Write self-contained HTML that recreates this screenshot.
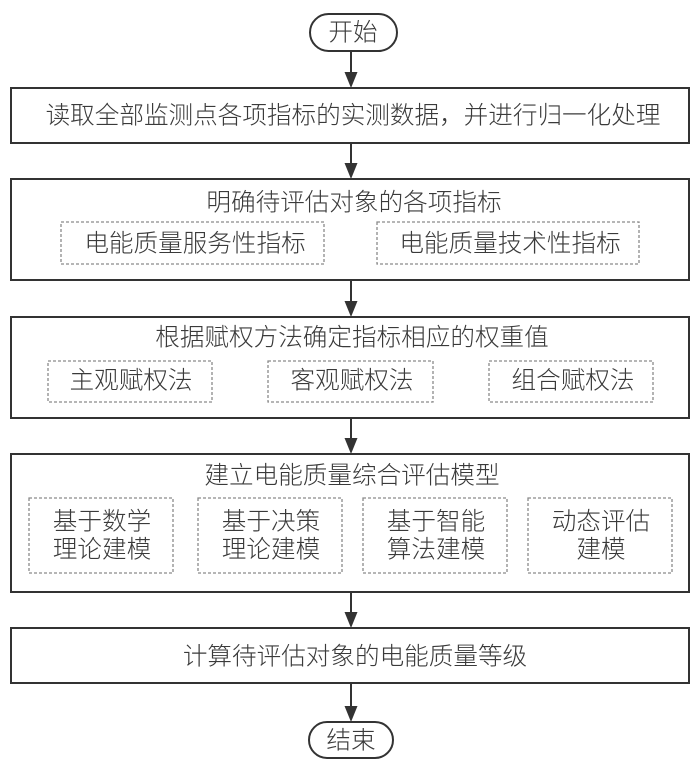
<!DOCTYPE html>
<html>
<head>
<meta charset="utf-8">
<style>
  html, body { margin: 0; padding: 0; background: #fff; }
  svg { display: block; }
  text { font-family: "Liberation Sans", "Noto Sans CJK SC", "WenQuanYi Zen Hei", sans-serif; fill: #3a3a3a; font-size: 24.6px; font-weight: 300; }
</style>
</head>
<body>
<svg width="700" height="764" viewBox="0 0 700 764" xmlns="http://www.w3.org/2000/svg">
  <rect x="0" y="0" width="700" height="764" fill="#fff"/>

  <!-- Start terminal -->
  <rect x="310" y="14" width="87" height="37" rx="18.5" ry="18.5" fill="#fff" stroke="#333" stroke-width="2"/>
  <text x="353" y="33" text-anchor="middle" dominant-baseline="central">开始</text>

  <!-- Arrows -->
  <g stroke="#333" stroke-width="2">
    <line x1="351" y1="51" x2="351" y2="76"/>
    <line x1="351" y1="143" x2="351" y2="167"/>
    <line x1="351" y1="280" x2="351" y2="305"/>
    <line x1="351" y1="418" x2="351" y2="442"/>
    <line x1="351" y1="592" x2="351" y2="616"/>
    <line x1="351" y1="683" x2="351" y2="710"/>
  </g>
  <g fill="#333">
    <polygon points="344.5,72 357.5,72 351,88"/>
    <polygon points="344.5,163 357.5,163 351,179"/>
    <polygon points="344.5,301 357.5,301 351,317"/>
    <polygon points="344.5,438 357.5,438 351,454"/>
    <polygon points="344.5,612 357.5,612 351,628"/>
    <polygon points="344.5,706 357.5,706 351,722"/>
  </g>

  <!-- Box 1 -->
  <rect x="11" y="88" width="678" height="55" fill="#fff" stroke="#333" stroke-width="2"/>
  <text x="353" y="116" text-anchor="middle" dominant-baseline="central">读取全部监测点各项指标的实测数据，并进行归一化处理</text>

  <!-- Box 2 -->
  <rect x="11" y="179" width="678" height="101" fill="#fff" stroke="#333" stroke-width="2"/>
  <text x="354" y="203" text-anchor="middle" dominant-baseline="central">明确待评估对象的各项指标</text>
  <g fill="none" stroke="#8a8a8a" stroke-width="1.3" stroke-dasharray="3,2">
    <rect x="61" y="222" width="263" height="42"/>
    <rect x="377" y="222" width="262" height="42"/>
  </g>
  <text x="195" y="244" text-anchor="middle" dominant-baseline="central">电能质量服务性指标</text>
  <text x="510" y="244" text-anchor="middle" dominant-baseline="central">电能质量技术性指标</text>

  <!-- Box 3 -->
  <rect x="11" y="317" width="678" height="101" fill="#fff" stroke="#333" stroke-width="2"/>
  <text x="352" y="338" text-anchor="middle" dominant-baseline="central">根据赋权方法确定指标相应的权重值</text>
  <g fill="none" stroke="#8a8a8a" stroke-width="1.3" stroke-dasharray="3,2">
    <rect x="48" y="361" width="164" height="41"/>
    <rect x="268" y="361" width="165" height="41"/>
    <rect x="489" y="361" width="164" height="41"/>
  </g>
  <text x="131" y="381" text-anchor="middle" dominant-baseline="central">主观赋权法</text>
  <text x="352" y="381" text-anchor="middle" dominant-baseline="central">客观赋权法</text>
  <text x="573" y="381" text-anchor="middle" dominant-baseline="central">组合赋权法</text>

  <!-- Box 4 -->
  <rect x="11" y="454" width="678" height="138" fill="#fff" stroke="#333" stroke-width="2"/>
  <text x="352" y="476" text-anchor="middle" dominant-baseline="central">建立电能质量综合评估模型</text>
  <g fill="none" stroke="#8a8a8a" stroke-width="1.3" stroke-dasharray="3,2">
    <rect x="29" y="498" width="144" height="75"/>
    <rect x="198" y="498" width="144" height="75"/>
    <rect x="363" y="498" width="144" height="75"/>
    <rect x="528" y="498" width="144" height="75"/>
  </g>
  <text x="102" y="522" text-anchor="middle" dominant-baseline="central">基于数学</text>
  <text x="102" y="550" text-anchor="middle" dominant-baseline="central">理论建模</text>
  <text x="271" y="522" text-anchor="middle" dominant-baseline="central">基于决策</text>
  <text x="271" y="550" text-anchor="middle" dominant-baseline="central">理论建模</text>
  <text x="436" y="522" text-anchor="middle" dominant-baseline="central">基于智能</text>
  <text x="436" y="550" text-anchor="middle" dominant-baseline="central">算法建模</text>
  <text x="601" y="522" text-anchor="middle" dominant-baseline="central">动态评估</text>
  <text x="601" y="550" text-anchor="middle" dominant-baseline="central">建模</text>

  <!-- Box 5 -->
  <rect x="11" y="628" width="678" height="55" fill="#fff" stroke="#333" stroke-width="2"/>
  <text x="355" y="657" text-anchor="middle" dominant-baseline="central">计算待评估对象的电能质量等级</text>

  <!-- End terminal -->
  <rect x="309" y="722" width="84" height="36" rx="18" ry="18" fill="#fff" stroke="#333" stroke-width="2"/>
  <text x="351" y="741" text-anchor="middle" dominant-baseline="central">结束</text>
</svg>
</body>
</html>
